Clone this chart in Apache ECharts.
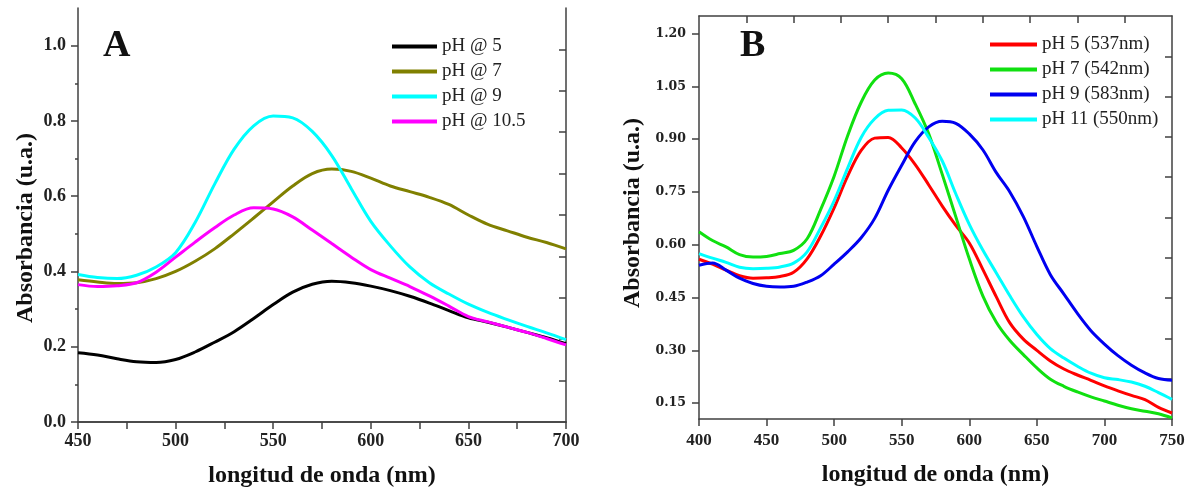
<!DOCTYPE html>
<html><head><meta charset="utf-8">
<script src="https://cdn.jsdelivr.net/npm/echarts@6/dist/echarts.min.js"></script>
<style>html,body{margin:0;padding:0;background:#fff}#c{width:1190px;height:493px}</style>
</head><body><div id="c"></div>
<script>
// ---------- Panel A data ----------
const wavelengthA = [450,460,470,480,490,500,510,520,530,540,550,560,570,580,590,600,610,620,630,640,650,660,670,680,690,700];
const namesA = ['pH @ 5','pH @ 7','pH @ 9','pH @ 10.5'];
const pH5A   = [0.184,0.178,0.168,0.160,0.158,0.166,0.186,0.212,0.240,0.275,0.312,0.345,0.366,0.374,0.370,0.361,0.349,0.334,0.316,0.296,0.277,0.265,0.252,0.238,0.224,0.208];
const pH7A   = [0.378,0.372,0.368,0.370,0.381,0.400,0.427,0.460,0.500,0.542,0.585,0.627,0.660,0.672,0.666,0.648,0.627,0.612,0.597,0.578,0.550,0.525,0.508,0.491,0.477,0.460];
const pH9A   = [0.392,0.384,0.381,0.390,0.412,0.450,0.530,0.632,0.725,0.787,0.813,0.808,0.772,0.708,0.620,0.533,0.468,0.412,0.370,0.340,0.313,0.291,0.272,0.254,0.237,0.219];
const pH105A = [0.365,0.360,0.362,0.370,0.398,0.438,0.478,0.516,0.550,0.569,0.566,0.545,0.510,0.474,0.438,0.405,0.382,0.360,0.335,0.308,0.280,0.266,0.252,0.238,0.222,0.205];
const colorsA = ['#000000','#808000','#00ffff','#ff00ff'];
const xLabelsA = [450,500,550,600,650,700];
const yLabelsA = [0.0,0.2,0.4,0.6,0.8,1.0];
const yMinorA  = [0.1,0.3,0.5,0.7,0.9];

// ---------- Panel B data ----------
const wavelengthB = [400,410,420,430,440,450,460,470,480,490,500,510,520,530,540,550,560,570,580,590,600,610,620,630,640,650,660,670,680,690,700,710,720,730,740,750];
const namesB = ['pH 5 (537nm)','pH 7 (542nm)','pH 9 (583nm)','pH 11 (550nm)'];
const pH5B  = [0.559,0.545,0.528,0.512,0.505,0.506,0.510,0.522,0.560,0.625,0.705,0.795,0.868,0.903,0.905,0.875,0.828,0.770,0.710,0.655,0.605,0.530,0.452,0.378,0.332,0.300,0.270,0.247,0.230,0.215,0.199,0.185,0.172,0.160,0.138,0.122];
const pH7B  = [0.637,0.612,0.594,0.572,0.565,0.567,0.575,0.584,0.617,0.700,0.795,0.910,1.005,1.068,1.088,1.072,1.000,0.915,0.800,0.680,0.560,0.455,0.380,0.328,0.288,0.250,0.218,0.198,0.182,0.168,0.156,0.144,0.134,0.127,0.120,0.108];
const pH9B  = [0.542,0.548,0.528,0.505,0.490,0.482,0.480,0.482,0.494,0.512,0.545,0.580,0.620,0.675,0.755,0.826,0.893,0.935,0.951,0.945,0.915,0.870,0.805,0.750,0.680,0.595,0.515,0.460,0.405,0.356,0.318,0.285,0.258,0.236,0.220,0.215];
const pH11B = [0.575,0.562,0.550,0.536,0.532,0.533,0.537,0.548,0.580,0.648,0.725,0.818,0.905,0.958,0.982,0.983,0.960,0.905,0.838,0.745,0.658,0.585,0.520,0.455,0.395,0.345,0.305,0.278,0.255,0.235,0.222,0.217,0.210,0.198,0.180,0.161];
const colorsB = ['#ff0000','#10e010','#0000f0','#00ffff'];
const xLabelsB = [400,450,500,550,600,650,700,750];
const yLabelsB = [0.15,0.30,0.45,0.60,0.75,0.90,1.05,1.20];

const axisCol = '#404040';
const A = {xmin:450,xmax:700,ymin:0,ymax:1.1};
const B = {xmin:400,xmax:750,ymin:0.105,ymax:1.25};
function tenths(min,max){const r=[];for(let k=1;k<10;k++)r.push(min+(max-min)*k/10);return r;}

function pairs(xs,ys){return xs.map((x,i)=>[x,ys[i]]);}

const labelA = {fontFamily:'Liberation Serif',fontWeight:'bold',fontSize:18,color:'#222'};
const labelBx = {fontFamily:'Liberation Serif',fontWeight:'bold',fontSize:17,color:'#222'};
const labelBy = {fontFamily:'DejaVu Serif',fontWeight:'bold',fontSize:12.5,color:'#222'};
const titleStyle = {fontFamily:'Liberation Serif',fontWeight:'bold',fontSize:24,color:'#111'};
const line = {show:true,lineStyle:{color:axisCol,width:1.5}};
const legendText = {fontFamily:'Liberation Serif',fontSize:19,color:'#222',lineHeight:19};

const option = {
  animation:false,
  backgroundColor:'#fff',
  grid:[
    {left:78,right:624,top:8,bottom:70},
    {left:699,right:18,top:16,bottom:74}
  ],
  legend:[
    {data:namesA,orient:'vertical',left:392,top:37,padding:0,itemWidth:45,itemHeight:4,itemGap:6,icon:'rect',
     textStyle:legendText},
    {data:namesB,orient:'vertical',left:990,top:35,padding:0,itemWidth:47,itemHeight:4,itemGap:6,icon:'rect',
     textStyle:legendText}
  ],
  xAxis:[
    {gridIndex:0,type:'value',position:'bottom',min:A.xmin,max:A.xmax,interval:50,axisLine:line,
     axisTick:{show:true,length:7,lineStyle:{color:axisCol,width:1.5}},splitLine:{show:false},
     axisLabel:Object.assign({margin:10,customValues:xLabelsA},labelA),
     name:'longitud de onda (nm)',nameLocation:'middle',nameGap:42,nameTextStyle:titleStyle},
    {gridIndex:0,type:'value',position:'top',min:A.xmin,max:A.xmax,axisLine:line,
     axisTick:{show:true,inside:true,length:7,customValues:tenths(A.xmin,A.xmax),lineStyle:{color:axisCol,width:1.5}},
     axisLabel:{show:false},splitLine:{show:false}},
    {gridIndex:1,type:'value',position:'bottom',min:B.xmin,max:B.xmax,interval:50,axisLine:line,
     axisTick:{show:true,length:7,lineStyle:{color:axisCol,width:1.5}},splitLine:{show:false},
     axisLabel:Object.assign({margin:13,customValues:xLabelsB},labelBx),
     name:'longitud de onda (nm)',nameLocation:'middle',nameGap:44,nameTextStyle:titleStyle},
    {gridIndex:1,type:'value',position:'top',min:B.xmin,max:B.xmax,axisLine:line,
     axisTick:{show:true,inside:true,length:7,customValues:tenths(B.xmin,B.xmax),lineStyle:{color:axisCol,width:1.5}},
     axisLabel:{show:false},splitLine:{show:false}}
  ],
  yAxis:[
    {gridIndex:0,type:'value',position:'left',min:A.ymin,max:A.ymax,axisLine:line,
     axisTick:{show:true,length:7,customValues:yLabelsA,lineStyle:{color:axisCol,width:1.5}},splitLine:{show:false},
     axisLabel:Object.assign({margin:12,customValues:yLabelsA,formatter:v=>v.toFixed(1)},labelA),
     name:'Absorbancia (u.a.)',nameLocation:'middle',nameRotate:90,nameGap:40,
     nameTextStyle:Object.assign({padding:[0,26,0,0]},titleStyle)},
    {gridIndex:0,type:'value',position:'left',min:A.ymin,max:A.ymax,axisLine:{show:false},
     axisTick:{show:true,length:3,customValues:yMinorA,lineStyle:{color:axisCol,width:1.5}},
     axisLabel:{show:false},splitLine:{show:false}},
    {gridIndex:0,type:'value',position:'right',min:A.ymin,max:A.ymax,axisLine:line,
     axisTick:{show:true,inside:true,length:7,customValues:tenths(A.ymin,A.ymax),lineStyle:{color:axisCol,width:1.5}},
     axisLabel:{show:false},splitLine:{show:false}},
    {gridIndex:1,type:'value',position:'left',min:B.ymin,max:B.ymax,axisLine:line,
     axisTick:{show:true,length:7,customValues:yLabelsB,lineStyle:{color:axisCol,width:1.5}},splitLine:{show:false},
     axisLabel:Object.assign({margin:13,customValues:yLabelsB,formatter:v=>v.toFixed(2)},labelBy),
     name:'Absorbancia (u.a.)',nameLocation:'middle',nameRotate:90,nameGap:54,
     nameTextStyle:Object.assign({padding:[0,0,0,9]},titleStyle)},
    {gridIndex:1,type:'value',position:'right',min:B.ymin,max:B.ymax,axisLine:line,
     axisTick:{show:true,inside:true,length:7,customValues:tenths(B.ymin,B.ymax),lineStyle:{color:axisCol,width:1.5}},
     axisLabel:{show:false},splitLine:{show:false}}
  ],
  graphic:[
    {type:'text',left:103,top:27,style:{text:'A',font:'bold 38px "Liberation Serif"',fill:'#111'}},
    {type:'text',left:740,top:27,style:{text:'B',font:'bold 38px "Liberation Serif"',fill:'#111'}}
  ],
  series:[]
};
const seriesA = [pH5A,pH7A,pH9A,pH105A];
seriesA.forEach((d,i)=>option.series.push({name:namesA[i],type:'line',xAxisIndex:0,yAxisIndex:0,
  data:pairs(wavelengthA,d),smooth:0.35,showSymbol:false,symbol:'none',
  lineStyle:{color:colorsA[i],width:3},itemStyle:{color:colorsA[i]}}));
const seriesB = [pH5B,pH7B,pH9B,pH11B];
seriesB.forEach((d,i)=>option.series.push({name:namesB[i],type:'line',xAxisIndex:2,yAxisIndex:3,
  data:pairs(wavelengthB,d),smooth:0.35,showSymbol:false,symbol:'none',
  lineStyle:{color:colorsB[i],width:3},itemStyle:{color:colorsB[i]}}));

const chart = echarts.init(document.getElementById('c'),null,{renderer:'canvas'});
chart.setOption(option);
</script>
</body></html>
